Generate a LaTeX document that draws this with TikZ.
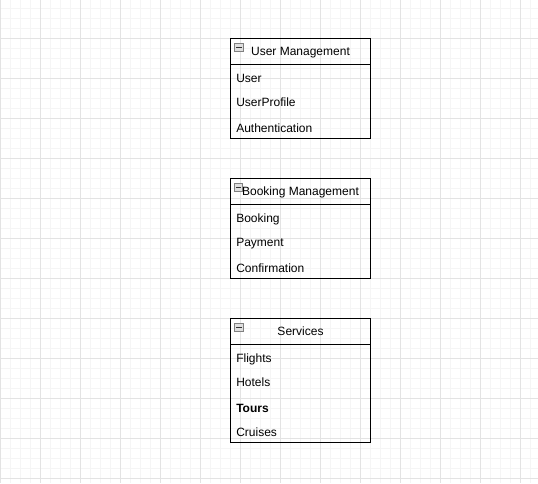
\documentclass[tikz,border=0pt]{standalone}
\usepackage{fontspec}
\setmainfont{Liberation Sans}
\usetikzlibrary{positioning}
\tikzset{
    gridminor/.style={line width=0.75pt, gray!8},
    gridmajor/.style={line width=0.75pt, gray!22},
    head/.style={draw, line width=0.75pt, minimum width=105pt, minimum height=19.5pt, inner sep=0pt, outer sep=0pt, text height=6.5pt, text depth=0pt, font=\fontsize{9}{11}\selectfont},
    listbody/.style={draw, line width=0.75pt, minimum width=105pt, inner sep=0pt, outer sep=0pt},
    entry/.style={anchor=west, inner sep=0pt, text height=6.5pt, text depth=0pt, font=\fontsize{9}{11}\selectfont},
    toggle/.style={draw=gray, fill=gray!25, line width=0.6pt, minimum size=6.5pt, inner sep=0pt,
        path picture={\draw[line width=1pt, black!80] ([xshift=1.2pt]path picture bounding box.west) -- ([xshift=-1.2pt]path picture bounding box.east);}}
}
\begin{document}
\begin{tikzpicture}[x=0.75pt,y=-0.75pt]
    \useasboundingbox (0,0) rectangle (538,483);
    \fill[white] (0,0) rectangle (538,483);
    \foreach \gx in {0,10,...,530} \draw[gridminor] (\gx,0) -- (\gx,483);
    \foreach \gy in {8,18,...,478} \draw[gridminor] (0,\gy) -- (538,\gy);
    \foreach \gx in {0,40,...,520} \draw[gridmajor] (\gx,0) -- (\gx,483);
    \foreach \gy in {38,78,...,478} \draw[gridmajor] (0,\gy) -- (538,\gy);

    \node[head] (userhead) at (300.5,51) {User Management};
    \node[listbody, minimum height=55.5pt, below=0pt of userhead] (userbody) {};
    \node[toggle] (usertoggle) at (239,47.5) {};
    \node[entry] (user) at (236,77.7) {User};
    \node[entry] (userprofile) at (236,101.7) {UserProfile};
    \node[entry] (authentication) at (236,127.7) {Authentication};

    \node[head] (bookinghead) at (300.5,191) {Booking Management};
    \node[listbody, minimum height=55.5pt, below=0pt of bookinghead] (bookingbody) {};
    \node[toggle] (bookingtoggle) at (238.5,187.5) {};
    \node[entry] (booking) at (236,217.7) {Booking};
    \node[entry] (payment) at (236,241.7) {Payment};
    \node[entry] (confirmation) at (236,267.7) {Confirmation};

    \node[head] (serviceshead) at (300.5,331) {Services};
    \node[listbody, minimum height=73.5pt, below=0pt of serviceshead] (servicesbody) {};
    \node[toggle] (servicestoggle) at (239,327.5) {};
    \node[entry] (flights) at (236,357.7) {Flights};
    \node[entry] (hotels) at (236,381.7) {Hotels};
    \node[entry, font=\fontsize{9}{11}\selectfont\bfseries] (tours) at (236,407.7) {Tours};
    \node[entry] (cruises) at (236,431.7) {Cruises};
\end{tikzpicture}
\end{document}
